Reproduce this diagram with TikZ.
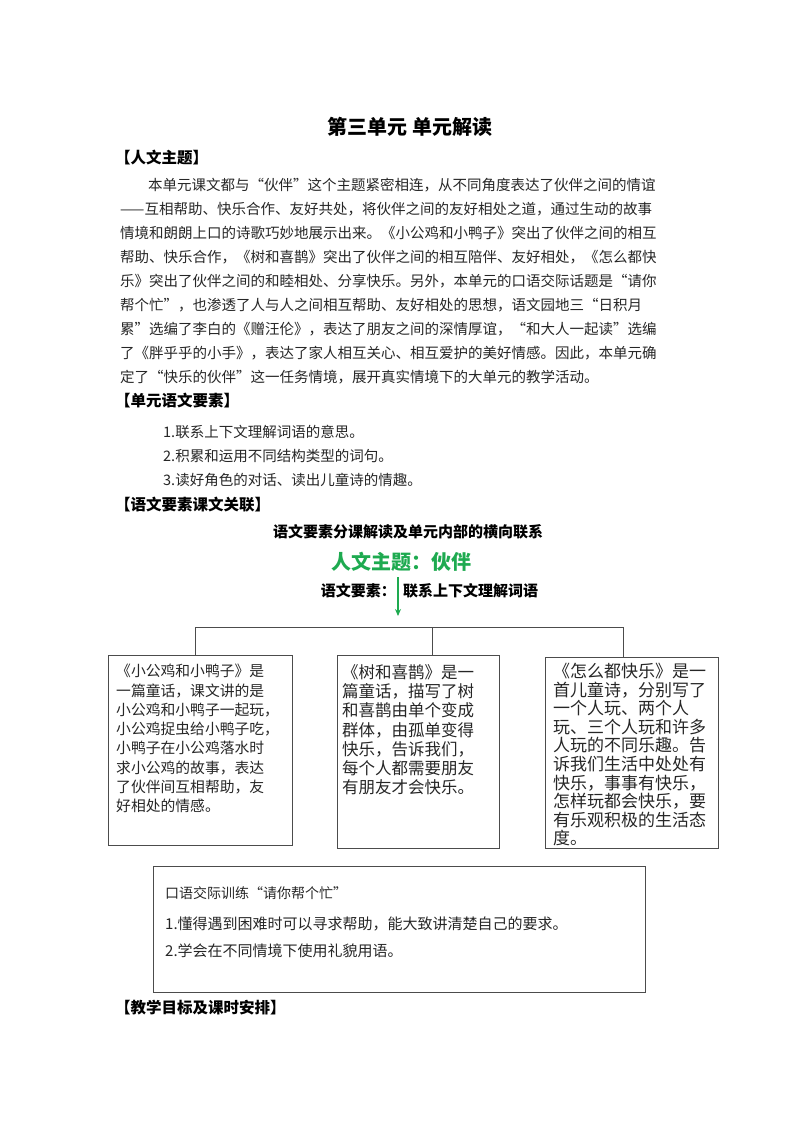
\documentclass[tikz,border=0pt]{standalone}
\usepackage{fontspec}
\setmainfont{Noto Sans CJK SC}
\usetikzlibrary{arrows.meta}
\definecolor{tgreen}{RGB}{30,170,80}
\tikzset{
  body/.style={anchor=west,inner sep=0pt,font=\fontsize{14.5}{17}\selectfont,text=black!85},
  head/.style={anchor=west,inner sep=0pt,font=\fontsize{15.5}{18}\selectfont\bfseries},
  boxtext/.style={anchor=north west,inner sep=0pt,align=left,font=\fontsize{15}{19}\selectfont,text=black!85},
  frame/.style={draw=black!70,line width=0.9pt,anchor=north west,inner sep=0pt},
  tree/.style={draw=black!70,line width=0.9pt}
}
\begin{document}
\begin{tikzpicture}[x=1pt,y=-1pt]
\useasboundingbox (0,0) rectangle (800,1132);
\node[anchor=center,inner sep=0pt,font=\fontsize{20}{24}\selectfont\bfseries] (title) at (410,127) {第三单元\ 单元解读};
\node[head] (h1) at (115,158) {【人文主题】};
\node[body] (p1) at (148,185) {本单元课文都与“伙伴”这个主题紧密相连，从不同角度表达了伙伴之间的情谊};
\node[body] (p2) at (120,209) {——互相帮助、快乐合作、友好共处，将伙伴之间的友好相处之道，通过生动的故事};
\node[body] (p3) at (120,233) {情境和朗朗上口的诗歌巧妙地展示出来。《小公鸡和小鸭子》突出了伙伴之间的相互};
\node[body] (p4) at (120,257) {帮助、快乐合作，《树和喜鹊》突出了伙伴之间的相互陪伴、友好相处，《怎么都快};
\node[body] (p5) at (120,281) {乐》突出了伙伴之间的和睦相处、分享快乐。另外，本单元的口语交际话题是“请你};
\node[body] (p6) at (120,305) {帮个忙”，也渗透了人与人之间相互帮助、友好相处的思想，语文园地三“日积月};
\node[body] (p7) at (120,329) {累”选编了李白的《赠汪伦》，表达了朋友之间的深情厚谊，“和大人一起读”选编};
\node[body] (p8) at (120,353) {了《胖乎乎的小手》，表达了家人相互关心、相互爱护的美好情感。因此，本单元确};
\node[body] (p9) at (120,377) {定了“快乐的伙伴”这一任务情境，展开真实情境下的大单元的教学活动。};
\node[head] (h2) at (115,401) {【单元语文要素】};
\node[body] (e1) at (163,432) {1.联系上下文理解词语的意思。};
\node[body] (e2) at (163,456) {2.积累和运用不同结构类型的词句。};
\node[body] (e3) at (163,480) {3.读好角色的对话、读出儿童诗的情趣。};
\node[head] (h3) at (115,505) {【语文要素课文关联】};
\node[anchor=center,inner sep=0pt,font=\fontsize{15}{18}\selectfont\bfseries] (sub) at (408,532) {语文要素分课解读及单元内部的横向联系};
\node[anchor=center,inner sep=0pt,font=\fontsize{20}{24}\selectfont\bfseries,text=tgreen] (theme) at (401,562) {人文主题：伙伴};
\node[anchor=east,inner sep=0pt,font=\fontsize{15}{18}\selectfont\bfseries] (elemL) at (396,591) {语文要素：};
\node[anchor=west,inner sep=0pt,font=\fontsize{15}{18}\selectfont\bfseries] (elemR) at (403,591) {联系上下文理解词语};
\coordinate (arT) at (398,577);
\coordinate (arB) at (398,616);
\draw[tgreen,line width=1.2pt,-{Stealth[length=7pt,width=6pt]}] (arT) -- (arB);
% boxes
\node[frame,minimum width=184,minimum height=190] (b1) at (108,655) {};
\node[frame,minimum width=162,minimum height=193] (b2) at (337,655) {};
\node[frame,minimum width=173,minimum height=191] (b3) at (545,657) {};
\coordinate (t1) at (195,627);
\coordinate (t2) at (432,627);
\coordinate (t3) at (623,627);
\draw[tree] (t1) -- (t3);
\draw[tree] (t1) -- (b1.north -| t1);
\draw[tree] (t2) -- (b2.north -| t2);
\draw[tree] (t3) -- (b3.north -| t3);
\node[boxtext,font=\fontsize{14.8}{19.3}\selectfont] (x1) at (116,664) {《小公鸡和小鸭子》是\\一篇童话，课文讲的是\\小公鸡和小鸭子一起玩，\\小公鸡捉虫给小鸭子吃，\\小鸭子在小公鸡落水时\\求小公鸡的故事，表达\\了伙伴间互相帮助，友\\好相处的情感。};
\node[boxtext,font=\fontsize{16.5}{19.3}\selectfont] (x2) at (342,664) {《树和喜鹊》是一\\篇童话，描写了树\\和喜鹊由单个变成\\群体，由孤单变得\\快乐，告诉我们，\\每个人都需要朋友\\有朋友才会快乐。};
\node[boxtext,font=\fontsize{17}{18.6}\selectfont] (x3) at (553,663) {《怎么都快乐》是一\\首儿童诗，分别写了\\一个人玩、两个人\\玩、三个人玩和许多\\人玩的不同乐趣。告\\诉我们生活中处处有\\快乐，事事有快乐，\\怎样玩都会快乐，要\\有乐观积极的生活态\\度。};
\node[frame,minimum width=492,minimum height=126] (b4) at (153,866) {};
\node[body,font=\fontsize{14}{17}\selectfont] (o0) at (165,893) {口语交际训练“请你帮个忙”};
\node[body,font=\fontsize{15}{17}\selectfont] (o1) at (165,924) {1.懂得遇到困难时可以寻求帮助，能大致讲清楚自己的要求。};
\node[body,font=\fontsize{15}{17}\selectfont] (o2) at (165,951) {2.学会在不同情境下使用礼貌用语。};
\node[head] (h4) at (115,1008) {【教学目标及课时安排】};
\end{tikzpicture}
\end{document}
